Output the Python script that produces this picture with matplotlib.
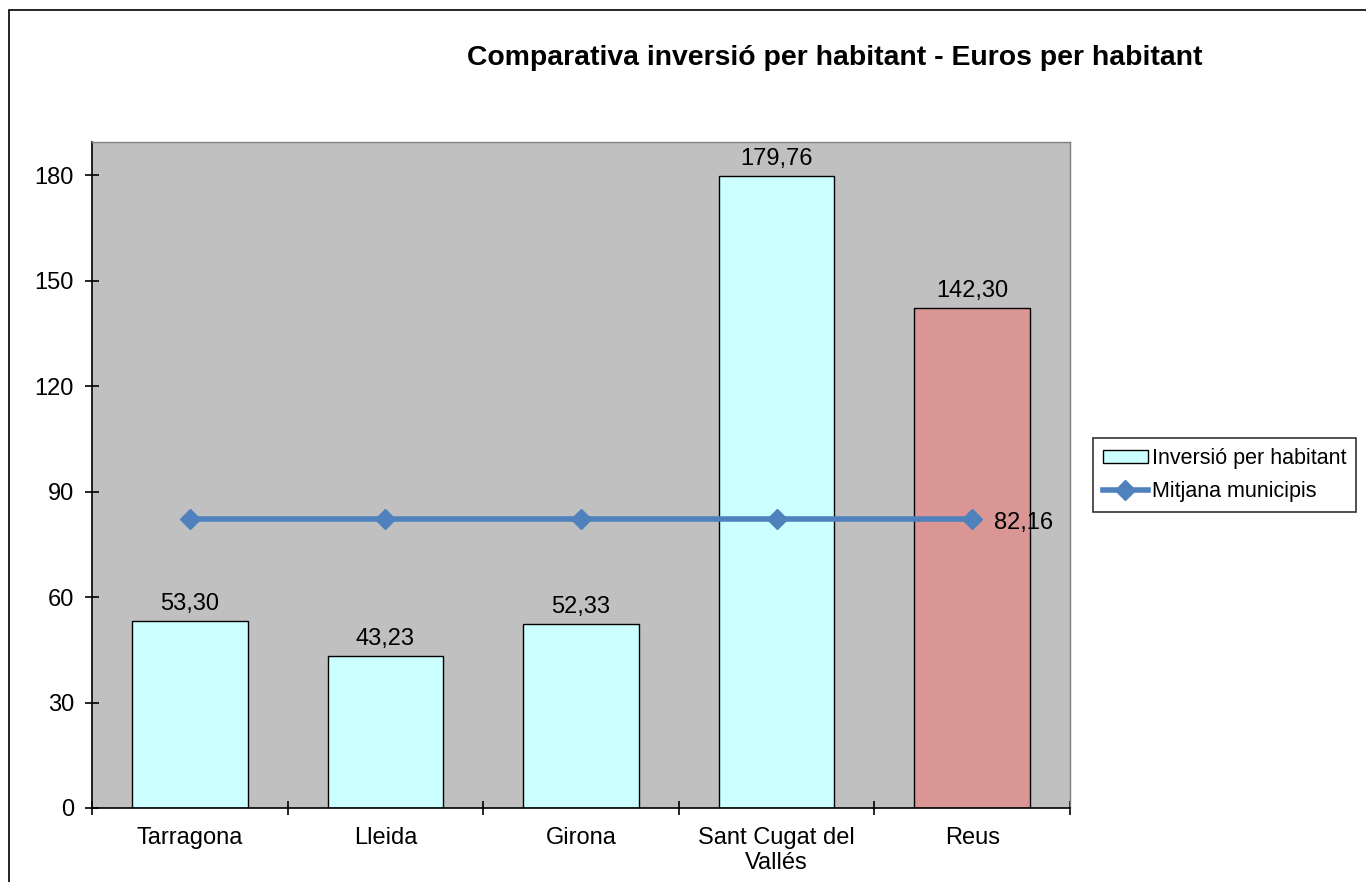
import matplotlib
matplotlib.use("Agg")
import matplotlib.pyplot as plt
from matplotlib.patches import Rectangle
import numpy as np

plt.rcParams['font.family'] = ['Liberation Sans', 'DejaVu Sans']

# data
cities = ['Tarragona', 'Lleida', 'Girona', 'Sant Cugat del\nVallés', 'Reus']
inversio = [53.30, 43.23, 52.33, 179.76, 142.30]
mitjana = [82.16, 82.16, 82.16, 82.16, 82.16]
bar_colors = ['#CCFFFF', '#CCFFFF', '#CCFFFF', '#CCFFFF', '#D99694']

W, H = 1366, 882
FS = 17
fig = plt.figure(figsize=(W / 100, H / 100), dpi=100)
# outer chart frame (runs off right and bottom edges)
fig.patches.append(Rectangle((9 / W, -0.05), 1, 1.05 - 10 / H, transform=fig.transFigure,
                             fill=False, edgecolor='black', linewidth=1.2))

ax = fig.add_axes([92 / W, 1 - 808 / H, (1070 - 92) / W, (808 - 142) / H])
ax.set_facecolor('#C0C0C0')

x = np.arange(len(cities))
bars = ax.bar(x, inversio, width=0.59, color=bar_colors, edgecolor='black',
              linewidth=1, label='Inversió per habitant', zorder=2)
line, = ax.plot(x, mitjana, color='#4F81BD', linewidth=4, marker='D', markersize=10,
                label='Mitjana municipis', zorder=3)

for xi, v in zip(x, inversio):
    ax.text(xi, v + 1.6, f'{v:.2f}'.replace('.', ','), ha='center', va='bottom', fontsize=FS)
ax.text(x[-1] + 0.11, mitjana[-1] - 1.2, f'{mitjana[-1]:.2f}'.replace('.', ','),
        ha='left', va='center', fontsize=FS)

ax.set_xlim(-0.5, len(cities) - 0.5)
ax.set_ylim(0, 189.4)
ax.set_yticks(np.arange(0, 181, 30))
ax.set_xticks(np.arange(-0.5, len(cities), 1))
ax.set_xticklabels([])
ax.set_xticks(x, minor=True)
ax.set_xticklabels(cities, minor=True, fontsize=FS)
for t in ax.get_xticklabels(minor=True):
    t.set_linespacing(1.15)
ax.tick_params(axis='x', which='minor', length=0, pad=14)
ax.tick_params(axis='x', which='major', direction='inout', length=10, width=1.2)
ax.tick_params(axis='y', direction='inout', length=10, width=1.2, labelsize=FS, pad=8)

for s in ['top', 'right']:
    ax.spines[s].set_color('#808080')
    ax.spines[s].set_linewidth(1)
for s in ['left', 'bottom']:
    ax.spines[s].set_linewidth(1.2)

fig.text(835 / W, 1 - 58 / H, 'Comparativa inversió per habitant - Euros per habitant',
         ha='center', va='center', fontsize=20.4, fontweight='bold')

leg = fig.legend([bars, line], ['Inversió per habitant', 'Mitjana municipis'],
                 loc='center left', bbox_to_anchor=(1093 / W, 1 - 475 / H),
                 fontsize=15.5, frameon=True, fancybox=False, edgecolor='black',
                 handlelength=2.1, handleheight=0.5, handletextpad=0.2,
                 borderpad=0.45, labelspacing=0.55, borderaxespad=0)
leg.get_frame().set_linewidth(1.2)

fig.savefig('out.png', dpi=100)
